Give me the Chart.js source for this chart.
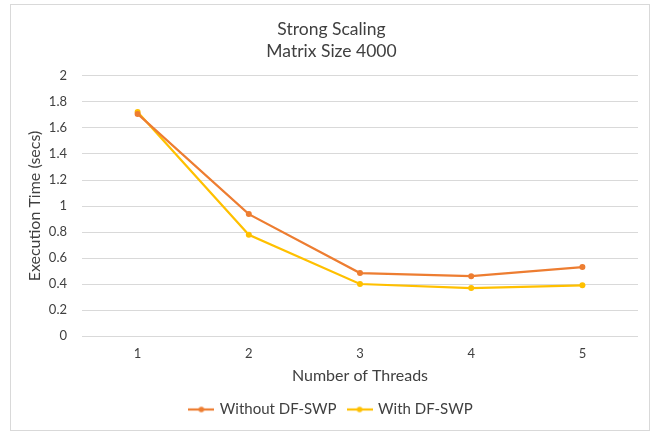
<!DOCTYPE html>
<html>
<head>
<meta charset="utf-8">
<script src="https://cdn.jsdelivr.net/npm/chart.js@4/dist/chart.umd.min.js"></script>
<style>
html,body{margin:0;padding:0;background:#fff;}
#frame{position:absolute;left:10px;top:4px;width:640px;height:427px;border:1px solid #d9d9d9;box-sizing:border-box;}
#wrap{position:absolute;left:0;top:0;width:652px;height:431px;}
</style>
</head>
<body>
<div id="frame"></div>
<div id="wrap"><canvas id="c" width="652" height="431"></canvas></div>
<script>
const threads = ['1', '2', '3', '4', '5'];
const withoutDF = [1.708, 0.938, 0.485, 0.461, 0.531];
const withDF = [1.723, 0.779, 0.401, 0.370, 0.391];
const yTicks = [0, 0.2, 0.4, 0.6, 0.8, 1, 1.2, 1.4, 1.6, 1.8, 2];
const titleLines = ['Strong Scaling', 'Matrix Size 4000'];
const seriesNames = ['Without DF-SWP', 'With DF-SWP'];
const ORANGE = '#ED7D31', YELLOW = '#FFC000';
const FONT = 'Lato, "Open Sans", sans-serif';
const TEXT = '#404040';

function legendIcon(color) {
  const c = document.createElement('canvas');
  c.width = 26; c.height = 8;
  const g = c.getContext('2d');
  g.strokeStyle = color; g.lineWidth = 2.2;
  g.beginPath(); g.moveTo(0, 4); g.lineTo(26, 4); g.stroke();
  g.fillStyle = color;
  g.beginPath(); g.arc(13, 4, 2.8, 0, Math.PI * 2); g.fill();
  return c;
}

new Chart(document.getElementById('c'), {
  type: 'line',
  data: {
    labels: threads,
    datasets: [
      { label: seriesNames[0], data: withoutDF, borderColor: ORANGE, backgroundColor: ORANGE,
        borderWidth: 2.2, pointRadius: 3, pointBorderWidth: 0, pointStyle: 'circle', tension: 0 },
      { label: seriesNames[1], data: withDF, borderColor: YELLOW, backgroundColor: YELLOW,
        borderWidth: 2.2, pointRadius: 3, pointBorderWidth: 0, pointStyle: 'circle', tension: 0 }
    ]
  },
  options: {
    responsive: false,
    animation: false,
    devicePixelRatio: 1,
    layout: { padding: { left: 25, right: 14, top: 19, bottom: 4 } },
    plugins: {
      title: { display: true, text: titleLines, color: TEXT,
        font: { family: FONT, size: 17.5, weight: 'normal', lineHeight: 1.24 }, padding: { top: 0, bottom: 13.5 } },
      legend: { position: 'bottom',
        labels: { color: TEXT, font: { family: FONT, size: 15 }, usePointStyle: true, pointStyleWidth: 22, boxHeight: 8,
          padding: 12,
          generateLabels: (chart) => chart.data.datasets.map((d, i) => ({
            text: d.label, fillStyle: d.borderColor, strokeStyle: d.borderColor, lineWidth: 0,
            pointStyle: legendIcon(d.borderColor), datasetIndex: i, hidden: false, fontColor: TEXT
          })) } },
      tooltip: { enabled: false }
    },
    scales: {
      x: {
        offset: true,
        grid: { display: false, drawTicks: false },
        border: { display: false },
        ticks: { color: TEXT, font: { family: FONT, size: 13 }, padding: 10 },
        title: { display: true, text: 'Number of Threads', color: TEXT, font: { family: FONT, size: 16 }, padding: { top: 6, bottom: 5 } },
        afterFit: (s) => { s.height = s.height - 12; }
      },
      y: {
        min: 0, max: 2,
        afterBuildTicks: (s) => { s.ticks = yTicks.map(v => ({ value: v })); },
        grid: { color: '#d9d9d9', lineWidth: 1, drawTicks: false },
        border: { display: false },
        ticks: { color: TEXT, font: { family: FONT, size: 13 }, padding: 15,
          callback: (v) => String(Math.round(v * 10) / 10) },
        title: { display: true, text: 'Execution Time (secs)', color: TEXT, font: { family: FONT, size: 16 }, padding: { top: 0, bottom: 4 } },
        afterFit: (s) => { s.width = 57; }
      }
    }
  }
});
</script>
</body>
</html>
